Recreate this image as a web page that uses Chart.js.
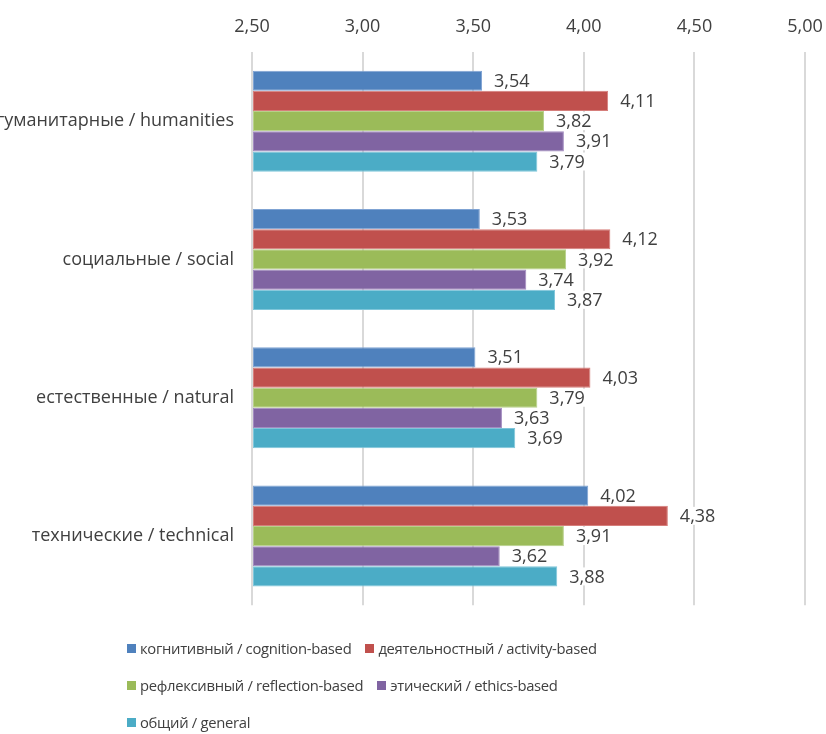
<!DOCTYPE html>
<html>
<head>
<meta charset="utf-8">
<script src="https://cdn.jsdelivr.net/npm/chart.js@4.4.1/dist/chart.umd.min.js"></script>
<style>
  html, body { margin: 0; padding: 0; background: #ffffff; overflow: hidden; }
  #wrap { position: relative; width: 826px; height: 734px; overflow: hidden; }
  #c { position: absolute; left: 0; top: 0; }
  #legend {
    position: absolute; left: 127px; top: 630px; width: 500px;
    display: flex; flex-wrap: wrap; font-family: "Open Sans", sans-serif;
    font-size: 14.8px; letter-spacing: -0.3px; color: #404040; line-height: 37px;
  }
  .item { display: flex; align-items: center; margin-right: 14px; white-space: nowrap; }
  .sw { width: 9px; height: 9px; margin-right: 4px; }
</style>
</head>
<body>
<div id="wrap">
  <canvas id="c" width="826" height="634"></canvas>
  <div id="legend"></div>
</div>
<script>
// Fields of study (rows of the chart)
const categories = [
  "гуманитарные / humanities",
  "социальные / social",
  "естественные / natural",
  "технические / technical"
];

// Mean scores per component
const cognitionBased  = [3.54, 3.53, 3.51, 4.02];
const activityBased   = [4.11, 4.12, 4.03, 4.38];
const reflectionBased = [3.82, 3.92, 3.79, 3.91];
const ethicsBased     = [3.91, 3.74, 3.63, 3.62];
const generalScore    = [3.79, 3.87, 3.69, 3.88];

const seriesNames = [
  "когнитивный / cognition-based",
  "деятельностный / activity-based",
  "рефлексивный / reflection-based",
  "этический / ethics-based",
  "общий / general"
];
const seriesColors = ["#4F81BD", "#C0504D", "#9BBB59", "#8064A2", "#4BACC6"];
const seriesBorders = ["#7FA3D3", "#D67E7B", "#B7D08A", "#A28BC0", "#7FC6DA"];

// Value-axis tick labels
const axisMin = 2.5, axisMax = 5.0, axisStep = 0.5;
const tickLabels = ["2,50", "3,00", "3,50", "4,00", "4,50", "5,00"];

const seriesValues = [cognitionBased, activityBased, reflectionBased, ethicsBased, generalScore];

const fmt = v => v.toFixed(2).replace('.', ',');
const FONT = '"Open Sans", sans-serif';

// Value labels printed to the right of each bar on a white backing
const valueLabels = {
  id: 'valueLabels',
  afterDatasetsDraw(chart) {
    const ctx = chart.ctx;
    ctx.save();
    ctx.font = '18px ' + FONT;
    ctx.textBaseline = 'middle';
    ctx.textAlign = 'left';
    chart.data.datasets.forEach((ds, di) => {
      const meta = chart.getDatasetMeta(di);
      meta.data.forEach((bar, i) => {
        const txt = fmt(ds.data[i]);
        const x = bar.x + 12;
        const w = ctx.measureText(txt).width;
        ctx.fillStyle = '#ffffff';
        ctx.fillRect(x - 2, bar.y - 9, w + 4, 18);
        ctx.fillStyle = '#404040';
        ctx.fillText(txt, x, bar.y + 1);
      });
    });
    ctx.restore();
  }
};

const chart = new Chart(document.getElementById('c'), {
  type: 'bar',
  data: {
    labels: categories,
    datasets: seriesValues.map((vals, k) => ({
      label: seriesNames[k],
      data: vals,
      backgroundColor: seriesColors[k],
      borderColor: seriesBorders[k],
      borderWidth: 1,
      borderSkipped: false,
      base: axisMin,
      categoryPercentage: 0.73,
      barPercentage: 1.0
    }))
  },
  options: {
    indexAxis: 'y',
    responsive: false,
    animation: false,
    layout: { padding: { left: 0, right: 21, top: 0, bottom: 6 } },
    plugins: { legend: { display: false }, tooltip: { enabled: false } },
    scales: {
      x: {
        position: 'top',
        min: axisMin, max: axisMax,
        afterFit(s) { s.height = 52; s.paddingLeft = 0; s.paddingRight = 0; },
        afterBuildTicks(s) {
          s.ticks = tickLabels.map((_, i) => ({ value: axisMin + i * axisStep }));
        },
        ticks: {
          padding: 14,
          color: '#404040',
          font: { family: FONT, size: 18 },
          callback: (v, i) => tickLabels[i]
        },
        grid: { color: '#D9D9D9', lineWidth: 2, drawTicks: false },
        border: { display: false }
      },
      y: {
        afterFit(s) { s.width = 252; },
        ticks: {
          padding: 18,
          color: '#404040',
          font: { family: FONT, size: 18 }
        },
        grid: { display: false, drawTicks: false },
        border: { display: false }
      }
    }
  },
  plugins: [valueLabels]
});

// Legend built from the chart's datasets
const legendEl = document.getElementById('legend');
chart.data.datasets.forEach(ds => {
  const item = document.createElement('div');
  item.className = 'item';
  const sw = document.createElement('span');
  sw.className = 'sw';
  sw.style.background = ds.backgroundColor;
  const t = document.createElement('span');
  t.textContent = ds.label;
  item.appendChild(sw);
  item.appendChild(t);
  legendEl.appendChild(item);
});
</script>
</body>
</html>
